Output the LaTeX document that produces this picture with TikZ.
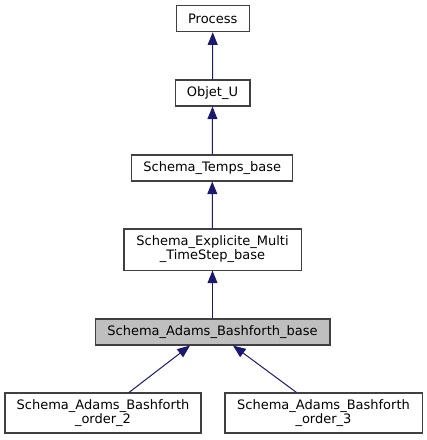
\documentclass[tikz,border=0pt]{standalone}
\usepackage{fontspec}
\setmainfont{DejaVu Sans}
\usetikzlibrary{arrows.meta,calc}
\definecolor{edgeblue}{HTML}{191970}
\definecolor{hilite}{HTML}{BFBFBF}
\tikzset{
  cls/.style={draw=black!75, line width=0.8pt, rectangle, inner sep=0pt, align=center,
    font=\fontsize{9.75}{10.4}\selectfont},
  inh/.style={draw=edgeblue, line width=0.75pt, -{Triangle[width=7.5pt,length=9.5pt]}, shorten >=0pt},
}
\begin{document}
\begin{tikzpicture}[x=0.75pt,y=-0.75pt]
\useasboundingbox (0,0) rectangle (427,440);
\node[cls, minimum width=54.7pt, minimum height=19.8pt] (p) at (212.75,18.5) {Process};
\node[cls, minimum width=56.2pt, minimum height=19.5pt] (o) at (212.5,93) {Objet\_U};
\node[cls, minimum width=120.8pt, minimum height=19.5pt] (t) at (212.25,168) {Schema\_Temps\_base};
\node[cls, minimum width=132.8pt, minimum height=30.8pt] (e) at (212.5,249.5) {Schema\_Explicite\_Multi\\\_TimeStep\_base};
\node[cls, fill=hilite, minimum width=176.2pt, minimum height=19.5pt] (b) at (212.5,332) {Schema\_Adams\_Bashforth\_base};
\node[cls, minimum width=147pt, minimum height=30pt] (o2) at (103,413) {Schema\_Adams\_Bashforth\\\_order\_2};
\node[cls, minimum width=147.8pt, minimum height=30pt] (o3) at (323.5,413) {Schema\_Adams\_Bashforth\\\_order\_3};
\draw[inh] (o.north) -- (p.south);
\draw[inh] (t.north) -- (o.south);
\draw[inh] (e.north) -- (t.south);
\draw[inh] (b.north) -- (e.south);
\draw[inh] ($(o2.north)+(26,0)$) -- ($(b.south)+(-22.5,0)$);
\draw[inh] ($(o3.north)+(-27,0)$) -- ($(b.south)+(20.5,0)$);
\end{tikzpicture}
\end{document}
